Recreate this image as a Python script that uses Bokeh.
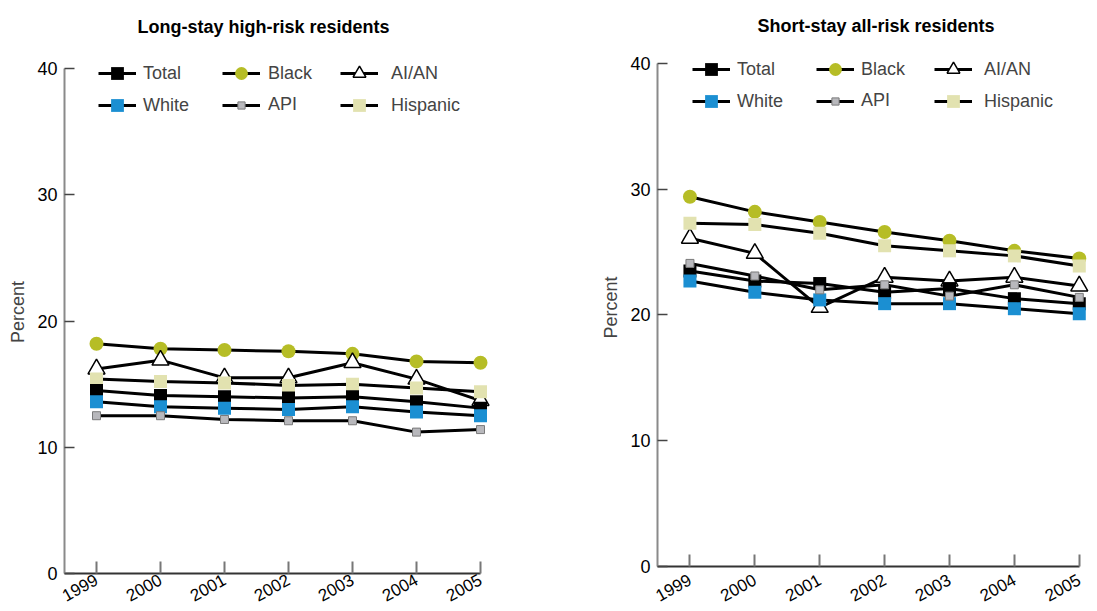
from bokeh.plotting import figure
from bokeh.layouts import row
from bokeh.models import Legend, LegendItem, FixedTicker, Range1d
from bokeh.embed import file_html
from bokeh.resources import INLINE

years = [1999, 2000, 2001, 2002, 2003, 2004, 2005]
series_names = ["Total", "White", "Black", "API", "AI/AN", "Hispanic"]

long_total = [14.5, 14.1, 14.0, 13.9, 14.0, 13.6, 13.1]
long_white = [13.6, 13.2, 13.1, 13.0, 13.2, 12.8, 12.5]
long_black = [18.2, 17.8, 17.7, 17.6, 17.4, 16.8, 16.7]
long_api = [12.5, 12.5, 12.2, 12.1, 12.1, 11.2, 11.4]
long_aian = [16.2, 16.9, 15.5, 15.5, 16.7, 15.4, 13.7]
long_hispanic = [15.4, 15.2, 15.1, 14.9, 15.0, 14.7, 14.4]

short_total = [23.5, 22.7, 22.5, 21.8, 22.1, 21.3, 20.9]
short_white = [22.7, 21.8, 21.2, 20.9, 20.9, 20.5, 20.1]
short_black = [29.4, 28.2, 27.4, 26.6, 25.9, 25.1, 24.5]
short_api = [24.1, 23.1, 22.0, 22.4, 21.5, 22.4, 21.4]
short_aian = [26.1, 24.9, 20.6, 23.0, 22.7, 23.0, 22.3]
short_hispanic = [27.3, 27.2, 26.5, 25.5, 25.1, 24.7, 23.9]

y_ticks = [0, 10, 20, 30, 40]

FONT = "Liberation Sans"

STYLE = {
    "Total": dict(marker="square", size=13, fill_color="black", line_color="black", line_width=0),
    "White": dict(marker="square", size=13, fill_color="#1b8fd2", line_color="#1b8fd2", line_width=0),
    "Black": dict(marker="circle", size=14, fill_color="#b6bd26", line_color="#b6bd26", line_width=0),
    "API": dict(marker="square", size=8, fill_color="#b8b8bc", line_color="#7a7a7a", line_width=1),
    "AI/AN": dict(marker="triangle", size=17, fill_color="white", line_color="black", line_width=1.5),
    "Hispanic": dict(marker="square", size=13, fill_color="#e2e2b0", line_color="#e2e2b0", line_width=0),
}
DRAW_ORDER = ["Black", "AI/AN", "Hispanic", "Total", "White", "API"]
# legend groups: (names, column index, row offset, glyph height)
LEGEND_GROUPS = [(["Total", "White"], 0, 0, 32), (["Black"], 1, 0, 32),
                 (["API"], 1, 1, 18), (["AI/AN", "Hispanic"], 2, 0, 32)]


def make_panel(title, data, width, height, mb_left, frame_w, mb_top, mb_bottom,
               y_end, x_end, title_offset, title_standoff, row1_from_bottom,
               legend_xs, legend_standoffs, xlabel_standoff):
    p = figure(width=width, height=height, output_backend="svg", toolbar_location=None,
               x_range=Range1d(1998.5, x_end), y_range=Range1d(0, y_end),
               min_border_left=mb_left, min_border_right=width - mb_left - frame_w,
               min_border_top=mb_top, min_border_bottom=mb_bottom,
               frame_align=False)
    p.outline_line_color = None
    p.grid.visible = False
    p.background_fill_color = "white"
    p.border_fill_color = "white"

    p.title.text = title
    p.title.text_font = FONT
    p.title.text_font_size = "18px"
    p.title.text_font_style = "bold"
    p.title.text_color = "black"
    p.title.align = "left"
    p.title.offset = title_offset
    p.title.standoff = title_standoff

    lines = {}
    for name in series_names:
        lines[name] = p.line(years, data[name], line_color="black", line_width=3)
    marks = {}
    for name in DRAW_ORDER:
        st = STYLE[name]
        marks[name] = p.scatter(years, data[name], marker=st["marker"], size=st["size"],
                                fill_color=st["fill_color"], line_color=st["line_color"],
                                line_width=st["line_width"])

    xa = p.xaxis[0]
    xa.ticker = FixedTicker(ticks=years)
    xa.bounds = (1998.5, 2005)
    xa.axis_line_color = "#333333"
    xa.axis_line_width = 2
    xa.major_tick_in = 12
    xa.major_tick_out = 0
    xa.major_tick_line_color = "#777777"
    xa.major_tick_line_width = 2
    xa.minor_tick_line_color = None
    xa.major_label_orientation = 0.5
    xa.major_label_standoff = xlabel_standoff
    xa.major_label_text_font = FONT
    xa.major_label_text_font_size = "17px"
    xa.major_label_text_color = "black"

    ya = p.yaxis[0]
    ya.ticker = FixedTicker(ticks=y_ticks)
    ya.bounds = (0, 40)
    ya.axis_line_color = "#8a8a8a"
    ya.axis_line_width = 2
    ya.major_tick_in = 10
    ya.major_tick_out = 0
    ya.major_tick_line_color = "#444444"
    ya.major_tick_line_width = 1.5
    ya.minor_tick_line_color = None
    ya.major_label_standoff = 7
    ya.major_label_text_font = FONT
    ya.major_label_text_font_size = "18px"
    ya.major_label_text_color = "black"
    ya.axis_label = "Percent"
    ya.axis_label_text_font = FONT
    ya.axis_label_text_font_size = "18px"
    ya.axis_label_text_font_style = "normal"
    ya.axis_label_standoff = 6

    # row centres are 32 px apart; row1_from_bottom = row-1 centre above frame bottom
    for names, col, row_off, gh in LEGEND_GROUPS:
        items = [LegendItem(label=n, renderers=[lines[n], marks[n]]) for n in names]
        item_h = max(gh, 20)
        first_centre = row1_from_bottom - 32 * row_off
        bottom = first_centre + item_h / 2 - item_h * len(names)
        lg = Legend(items=items, location=(legend_xs[col], bottom), orientation="vertical",
                    glyph_width=38, glyph_height=gh, label_standoff=legend_standoffs[col],
                    label_height=20, spacing=0, padding=0, margin=0,
                    border_line_color=None, background_fill_alpha=0,
                    label_text_font=FONT, label_text_font_size="18px")
        p.add_layout(lg)
    return p


long_data = {"Total": long_total, "White": long_white, "Black": long_black,
             "API": long_api, "AI/AN": long_aian, "Hispanic": long_hispanic}
short_data = {"Total": short_total, "White": short_white, "Black": short_black,
              "API": short_api, "AI/AN": short_aian, "Hispanic": short_hispanic}

# Left panel: frame page y 50..573 (40 at y=68), title centred near y=26
p1 = make_panel("Long-stay high-risk residents", long_data, width=560, height=611,
                mb_left=64, frame_w=432, mb_top=50, mb_bottom=38, y_end=41.43,
                x_end=2005.25, title_offset=73, title_standoff=28,
                row1_from_bottom=573 - 73, legend_xs=[34, 158, 276],
                legend_standoffs=[7, 8, 13], xlabel_standoff=5)
# Right panel: frame page y 48..566 (40 at y=63)
p2 = make_panel("Short-stay all-risk residents", short_data, width=537, height=611,
                mb_left=97, frame_w=438, mb_top=48, mb_bottom=45, y_end=41.19,
                x_end=2005.25, title_offset=100, title_standoff=26,
                row1_from_bottom=566 - 69, legend_xs=[35, 159, 277],
                legend_standoffs=[7, 7, 12], xlabel_standoff=12)

layout = row(p1, p2)
open("out.html", "w").write(file_html(layout, INLINE))
